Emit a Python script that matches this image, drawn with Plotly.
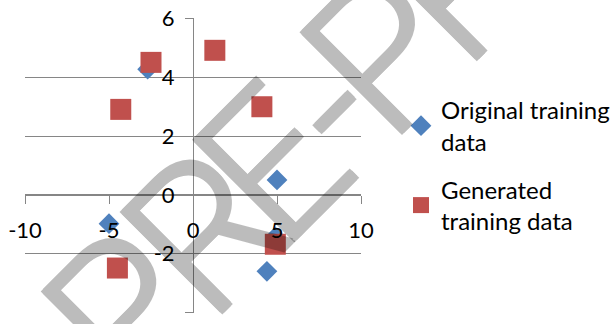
import math
import plotly.graph_objects as go

# Training samples
orig_x = [-2.7, 5.0, -5.0, 4.4, 4.9]
orig_y = [4.28, 0.51, -0.98, -2.6, -1.43]

gen_x = [-2.5, 1.3, -4.3, 4.1, 4.9, -4.5]
gen_y = [4.51, 4.92, 2.91, 3.0, -1.68, -2.49]

x_ticks = [-10, -5, 0, 5, 10]
y_ticks = [-4, -2, 0, 2, 4, 6]

FONT = "Lato"
GRID = "#868686"
W, H = 614, 324
M_L, M_R, M_T, M_B = 25, 253, 18, 11
PLOT_W = W - M_L - M_R
PLOT_H = H - M_T - M_B


def px_to_paper(sx, sy):
    return (sx - M_L) / PLOT_W, (H - M_B - sy) / PLOT_H


fig = go.Figure()
fig.add_trace(go.Scatter(
    x=orig_x, y=orig_y, mode="markers",
    name="Original training<br>data", legendgroup="a",
    marker=dict(symbol="diamond", size=16, color="#4F81BD", line=dict(width=0)),
))
fig.add_trace(go.Scatter(
    x=gen_x, y=gen_y, mode="markers",
    name="Generated<br>training data", legendgroup="b",
    marker=dict(symbol="square", size=21, color="#C0504D", line=dict(width=0)),
))

# Diagonal "PRE-PRINT" watermark, laid out letter by letter along a 45° baseline.
# u runs along the baseline, v across it (pixels, rotated frame).
WM_LETTERS = ["P", "R", "E", "-", "P", "R"]
WM_U = [-132, -18, 77, 158, 234, 341]
WM_V = 310
SH = "1.5px 1.5px 0px black, -1.5px -1.5px 0px black, 1.5px -1.5px 0px black, -1.5px 1.5px 0px black"
for ch, u in zip(WM_LETTERS, WM_U):
    sx = (u + WM_V) / math.sqrt(2)
    sy = (WM_V - u) / math.sqrt(2)
    px, py = px_to_paper(sx, sy)
    fig.add_annotation(
        text=ch, xref="paper", yref="paper", x=px, y=py,
        xanchor="center", yanchor="middle", textangle=-45, showarrow=False,
        opacity=0.26,
        font=dict(family="Roboto", size=200, weight=300, color="black", shadow=SH),
    )

fig.update_layout(
    width=W, height=H,
    margin=dict(l=M_L, r=M_R, t=M_T, b=M_B, autoexpand=False),
    paper_bgcolor="white", plot_bgcolor="white",
    font=dict(family=FONT, size=22, color="black"),
    legend=dict(
        xref="container", yref="container",
        x=401 / W, y=1 - 88 / H, xanchor="left", yanchor="top",
        font=dict(family=FONT, size=24, color="black"),
        tracegroupgap=14, itemsizing="trace", bgcolor="rgba(0,0,0,0)",
    ),
    xaxis=dict(
        range=[-10, 10], tickvals=x_ticks, ticktext=[str(v) for v in x_ticks],
        anchor="free", position=0.4, showline=True, linecolor=GRID, linewidth=1,
        ticks="outside", ticklen=8, tickcolor=GRID, ticklabelstandoff=8,
        showgrid=False, zeroline=False, automargin=False,
    ),
    yaxis=dict(
        range=[-4.02, 6.02], tickvals=y_ticks, ticktext=[str(v) for v in y_ticks],
        anchor="free", position=0.5, showline=True, linecolor=GRID, linewidth=1,
        ticks="outside", ticklen=8, tickcolor=GRID, ticklabelstandoff=6,
        showgrid=True, gridcolor=GRID, gridwidth=1, zeroline=False, automargin=False,
    ),
)

fig.write_html("out.html")
